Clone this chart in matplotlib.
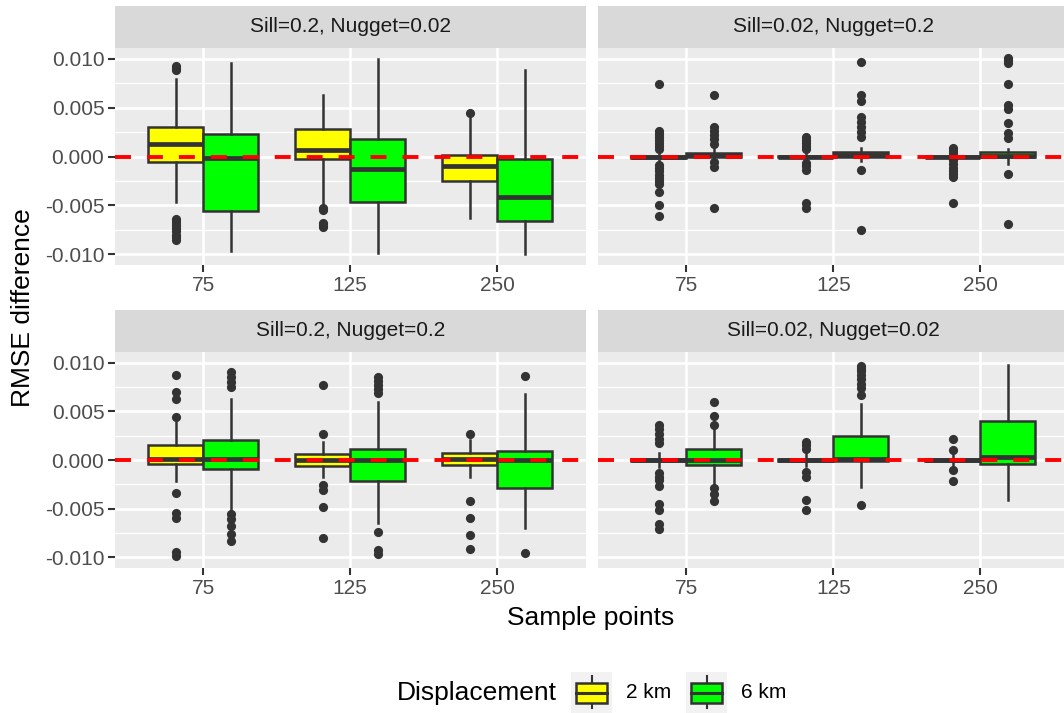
import matplotlib
matplotlib.use('Agg')
import matplotlib.pyplot as plt
from matplotlib.patches import Rectangle
from matplotlib.ticker import FuncFormatter
import numpy as np

plt.rcParams['font.family'] = ['Liberation Sans', 'DejaVu Sans']
plt.rcParams['lines.scale_dashes'] = False

samples = ['75', '125', '250']
displacements = ['2 km', '6 km']
fills = ['#FFFF00', '#00FF00']
titles = ['Sill=0.2, Nugget=0.02', 'Sill=0.02, Nugget=0.2',
          'Sill=0.2, Nugget=0.2', 'Sill=0.02, Nugget=0.02']

# box stats, rows: whisker low, q1, median, q3, whisker high; columns: 75, 125, 250
a_2km = [[-0.0047, -0.0050, -0.0063],
         [-0.0006, -0.0003, -0.0025],
         [0.0013, 0.0007, -0.0010],
         [0.0030, 0.0028, 0.0002],
         [0.0079, 0.0063, 0.0040]]
a_2km_out = [[0.0093, 0.0091, 0.0089, -0.0064, -0.0067, -0.0070, -0.0073, -0.0076, -0.0080, -0.0082, -0.0085],
             [-0.0053, -0.0055, -0.0068, -0.0070, -0.0072],
             [0.0044]]
a_6km = [[-0.0097, -0.0099, -0.0100],
         [-0.0056, -0.0047, -0.0066],
         [-0.0002, -0.0013, -0.0041],
         [0.0023, 0.0018, -0.0003],
         [0.0096, 0.0100, 0.0089]]
a_6km_out = [[], [], []]

b_2km = [[-0.0006, -0.0005, -0.0004],
         [-0.00015, -0.0001, -0.0001],
         [0.0, 0.0, 0.0],
         [0.0001, 0.0001, 0.00005],
         [0.0006, 0.0005, 0.0003]]
b_2km_out = [[0.0074, 0.0026, 0.0023, 0.0020, 0.0017, 0.0014, 0.0011, 0.0008,
              -0.0009, -0.0012, -0.0015, -0.0019, -0.0022, -0.0025, -0.0028, -0.0036, -0.0050, -0.0061],
             [0.0020, 0.0017, 0.0014, 0.0011, 0.0008, -0.0007, -0.0010, -0.0014, -0.0048, -0.0053],
             [0.0009, 0.0006, 0.0004, -0.0004, -0.0008, -0.0012, -0.0015, -0.0018, -0.0021, -0.0048]]
b_6km = [[-0.0003, -0.0005, -0.0008],
         [-0.00005, -0.0001, -0.0001],
         [0.0002, 0.0002, 0.00005],
         [0.0004, 0.0005, 0.0005],
         [0.0008, 0.0009, 0.0008]]
b_6km_out = [[0.0063, 0.0030, 0.0026, 0.0022, 0.0018, 0.0013, -0.0006, -0.0011, -0.0053],
             [0.0097, 0.0063, 0.0057, 0.0040, 0.0035, 0.0030, 0.0025, 0.0020, -0.0014, -0.0075],
             [0.0101, 0.0099, 0.0096, 0.0074, 0.0053, 0.0049, 0.0034, 0.0024, 0.0019, -0.0018, -0.0069]]

c_2km = [[-0.0022, -0.0017, -0.0017],
         [-0.0004, -0.0006, -0.0005],
         [0.0001, 0.0, 0.0001],
         [0.0015, 0.0006, 0.0007],
         [0.0039, 0.0019, 0.0021]]
c_2km_out = [[0.0087, 0.0070, 0.0063, 0.0044, -0.0034, -0.0054, -0.0060, -0.0095, -0.0099],
             [0.0077, 0.0027, -0.0026, -0.0031, -0.0048, -0.0080],
             [0.0027, -0.0042, -0.0060, -0.0077, -0.0091]]
c_6km = [[-0.0054, -0.0065, -0.0070],
         [-0.0009, -0.0022, -0.0029],
         [0.0001, 0.0, 0.0],
         [0.0021, 0.0011, 0.00095],
         [0.0063, 0.0060, 0.0068]]
c_6km_out = [[0.0090, 0.0085, 0.0080, 0.0075, -0.0056, -0.0061, -0.0068, -0.0076, -0.0083],
             [0.0085, 0.0081, 0.0077, 0.0073, 0.0069, -0.0074, -0.0092, -0.0097],
             [0.0086, -0.0096]]

d_2km = [[-0.0007, -0.0006, -0.0005],
         [-0.0001, -0.0001, -0.0001],
         [0.0, 0.0, 0.0],
         [0.0001, 0.0001, 0.0001],
         [0.0007, 0.0006, 0.0005]]
d_2km_out = [[0.0036, 0.0032, 0.0027, 0.0022, 0.0017, -0.0013, -0.0017, -0.0021, -0.0027,
              -0.0045, -0.0051, -0.0066, -0.0071],
             [0.0018, 0.0015, 0.0011, -0.0012, -0.0017, -0.0041, -0.0051],
             [0.0022, 0.0010, -0.0010, -0.0022]]
d_6km = [[-0.0025, -0.0028, -0.0041],
         [-0.0005, -0.0001, -0.0004],
         [0.0, 0.0001, 0.0003],
         [0.0011, 0.0025, 0.0040],
         [0.0031, 0.0058, 0.0098]]
d_6km_out = [[0.0060, 0.0045, 0.0036, -0.0029, -0.0035, -0.0042],
             [0.0097, 0.0094, 0.0091, 0.0087, 0.0083, 0.0078, 0.0074, 0.0067, -0.0046],
             []]

panels = [(a_2km, a_2km_out, a_6km, a_6km_out),
          (b_2km, b_2km_out, b_6km, b_6km_out),
          (c_2km, c_2km_out, c_6km, c_6km_out),
          (d_2km, d_2km_out, d_6km, d_6km_out)]

W, H = 1064, 713
fig = plt.figure(figsize=(W / 100, H / 100), dpi=100)


def rect(x0, y0, x1, y1):
    # pixel box measured from the top-left corner -> figure fraction
    return [x0 / W, 1 - y1 / H, (x1 - x0) / W, (y1 - y0) / H]


dark = '#333333'
col_x = [(115, 585.5), (598, 1068.5)]
row_y = [(6, 48, 265), (310, 352, 568)]
pos = np.arange(1, len(samples) + 1)
bw = 0.375

for p, (s2, o2, s6, o6) in enumerate(panels):
    r, c = divmod(p, 2)
    x0, x1 = col_x[c]
    st, y0, y1 = row_y[r]

    strip = fig.add_axes(rect(x0, st, x1, y0))
    strip.set_facecolor('#D9D9D9')
    strip.set_xticks([])
    strip.set_yticks([])
    for sp in strip.spines.values():
        sp.set_visible(False)
    strip.text(0.5, 0.5, titles[p], ha='center', va='center',
               fontsize=15, color='#1A1A1A', transform=strip.transAxes)

    ax = fig.add_axes(rect(x0, y0, x1, y1))
    ax.set_facecolor('#EBEBEB')
    for sp in ax.spines.values():
        sp.set_visible(False)

    for k, (s, o) in enumerate([(s2, o2), (s6, o6)]):
        stats = [dict(whislo=s[0][i], q1=s[1][i], med=s[2][i], q3=s[3][i],
                      whishi=s[4][i], fliers=o[i]) for i in range(len(samples))]
        ax.bxp(stats, positions=pos + (k - 0.5) * bw, widths=bw,
               patch_artist=True, showcaps=False, manage_ticks=False,
               boxprops=dict(facecolor=fills[k], edgecolor=dark, linewidth=1.8),
               medianprops=dict(color=dark, linewidth=3.4, solid_capstyle='butt'),
               whiskerprops=dict(color=dark, linewidth=1.8),
               flierprops=dict(marker='o', markerfacecolor=dark,
                               markeredgecolor='none', markersize=6.6))

    ax.axhline(0, color='red', linewidth=2.8, linestyle=(0, (11.5, 11.5)), zorder=5)

    ax.set_xlim(0.4, 3.6)
    ax.set_ylim(-0.0111, 0.0111)
    ax.set_xticks(pos)
    ax.set_xticklabels(samples)
    ax.set_yticks([-0.01, -0.005, 0, 0.005, 0.01])
    ax.set_yticks([-0.0075, -0.0025, 0.0025, 0.0075], minor=True)
    ax.yaxis.set_major_formatter(FuncFormatter(lambda v, _: f'{v:.3f}'.replace('-0.000', '0.000')))
    ax.set_axisbelow(True)
    ax.grid(which='major', color='white', linewidth=1.8)
    ax.grid(which='minor', axis='y', color='white', linewidth=0.9)
    ax.tick_params(which='major', length=4.7, width=1.5, color=dark,
                   labelsize=15, labelcolor='#4D4D4D', pad=3)
    ax.tick_params(which='minor', length=0)
    if c == 1:
        ax.tick_params(axis='y', which='major', length=0, labelleft=False)

fig.text(23 / W, 1 - 308 / H, 'RMSE difference', rotation=90,
         ha='center', va='center', fontsize=19, color='black')
fig.text(591 / W, 1 - 618 / H, 'Sample points',
         ha='center', va='center', fontsize=19, color='black')

# legend
fig.text(397 / W, 1 - 693 / H, 'Displacement', ha='left', va='center',
         fontsize=19, color='black')
key_x = [571, 686]
label_x = [626, 741]
for k, lab in enumerate(displacements):
    kx = key_x[k]
    kax = fig.add_axes(rect(kx, 672, kx + 41, 713))
    kax.set_xlim(0, 41)
    kax.set_ylim(41, 0)
    kax.set_facecolor('#F2F2F2')
    kax.set_xticks([])
    kax.set_yticks([])
    for sp in kax.spines.values():
        sp.set_visible(False)
    kax.plot([20.5, 20.5], [4, 36], color=dark, linewidth=1.5)
    kax.add_patch(Rectangle((4.5, 10.7), 31, 20, facecolor=fills[k],
                            edgecolor=dark, linewidth=1.8, zorder=3))
    kax.plot([4.5, 35.5], [20.7, 20.7], color=dark, linewidth=2.2, zorder=4)
    fig.text(label_x[k] / W, 1 - 693 / H, lab, ha='left', va='center',
             fontsize=15, color='black')

fig.savefig('out.png', dpi=100, facecolor='white')
